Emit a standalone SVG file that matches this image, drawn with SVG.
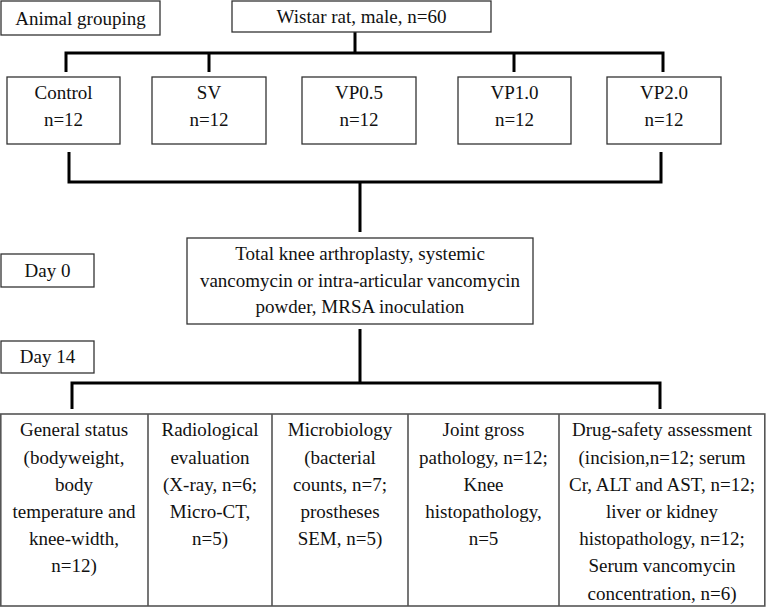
<svg xmlns="http://www.w3.org/2000/svg" width="766" height="607" viewBox="0 0 766 607">
<style>
.box{fill:#fff;stroke:#333;stroke-width:1.3}
.tbl{fill:none;stroke:#555;stroke-width:1.6}
.t{font-family:"Liberation Serif","Times New Roman",serif;font-size:19px;fill:#111;text-anchor:middle}
.c{fill:none;stroke:#000;stroke-width:3}
</style>
<rect width="766" height="607" fill="#fff"/>
<g id="connectors">
<path class="c" d="M355,32 V53 M66,72 V53 H663 V72 M209,53 V72 M514,53 V72"/>
<path class="c" d="M69,152 V182 H661 V152 M360,182 V232"/>
<path class="c" d="M360,329 V383 M72,409 V383 H660 V409"/>
</g>
<g id="animal-grouping"><rect class="box" x="1" y="1" width="159" height="34"/><text class="t" x="80.5" y="25">Animal grouping</text></g>
<g id="wistar"><rect class="box" x="232" y="1" width="259" height="31"/><text class="t" x="361.5" y="22.5">Wistar rat, male, n=60</text></g>
<g id="control"><rect class="box" x="7" y="77" width="113" height="67"/><text class="t" x="63.5" y="98.5">Control</text><text class="t" x="63.5" y="126">n=12</text></g>
<g id="sv"><rect class="box" x="152" y="77" width="114" height="67"/><text class="t" x="209" y="98.5">SV</text><text class="t" x="209" y="126">n=12</text></g>
<g id="vp05"><rect class="box" x="302" y="77" width="114" height="67"/><text class="t" x="359" y="98.5">VP0.5</text><text class="t" x="359" y="126">n=12</text></g>
<g id="vp10"><rect class="box" x="458" y="77" width="113" height="67"/><text class="t" x="514.5" y="98.5">VP1.0</text><text class="t" x="514.5" y="126">n=12</text></g>
<g id="vp20"><rect class="box" x="607" y="77" width="114" height="67"/><text class="t" x="664" y="98.5">VP2.0</text><text class="t" x="664" y="126">n=12</text></g>
<g id="day0"><rect class="box" x="1" y="254" width="93" height="33"/><text class="t" x="47.5" y="277">Day 0</text></g>
<g id="surgery"><rect class="box" x="187" y="238" width="346" height="86"/>
<text class="t" x="360" y="259.5">Total knee arthroplasty, systemic</text>
<text class="t" x="360" y="286.5">vancomycin or intra-articular vancomycin</text>
<text class="t" x="360" y="313">powder, MRSA inoculation</text></g>
<g id="day14"><rect class="box" x="1" y="341" width="93" height="32"/><text class="t" x="47.5" y="363">Day 14</text></g>
<g id="outcomes">
<rect class="tbl" x="0.8" y="414" width="764" height="192"/>
<path class="tbl" d="M148,414 V606 M272,414 V606 M408,414 V606 M559,414 V606"/>
<g id="general-status">
<text class="t" x="74" y="436">General status</text>
<text class="t" x="74" y="463.5">(bodyweight,</text>
<text class="t" x="74" y="491">body</text>
<text class="t" x="74" y="518">temperature and</text>
<text class="t" x="74" y="545">knee-width,</text>
<text class="t" x="74" y="572">n=12)</text></g>
<g id="radiological">
<text class="t" x="210" y="436">Radiological</text>
<text class="t" x="210" y="463.5">evaluation</text>
<text class="t" x="210" y="491">(X-ray, n=6;</text>
<text class="t" x="210" y="518">Micro-CT,</text>
<text class="t" x="210" y="545">n=5)</text></g>
<g id="microbiology">
<text class="t" x="340" y="436">Microbiology</text>
<text class="t" x="340" y="463.5">(bacterial</text>
<text class="t" x="340" y="491">counts, n=7;</text>
<text class="t" x="340" y="518">prostheses</text>
<text class="t" x="340" y="545">SEM, n=5)</text></g>
<g id="joint">
<text class="t" x="483.5" y="436">Joint gross</text>
<text class="t" x="483.5" y="463.5">pathology, n=12;</text>
<text class="t" x="483.5" y="491">Knee</text>
<text class="t" x="483.5" y="518">histopathology,</text>
<text class="t" x="483.5" y="545">n=5</text></g>
<g id="drug-safety">
<text class="t" x="662" y="436">Drug-safety assessment</text>
<text class="t" x="662" y="463.5">(incision,n=12; serum</text>
<text class="t" x="662" y="491">Cr, ALT and AST, n=12;</text>
<text class="t" x="662" y="518">liver or kidney</text>
<text class="t" x="662" y="545">histopathology, n=12;</text>
<text class="t" x="662" y="572">Serum vancomycin</text>
<text class="t" x="662" y="600">concentration, n=6)</text></g>
</g>
</svg>
